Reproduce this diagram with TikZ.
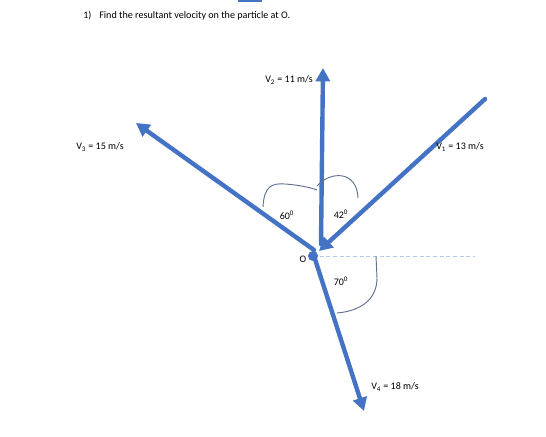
\documentclass[tikz,border=0pt]{standalone}
\usepackage{fontspec}
\setmainfont{Carlito}
\usetikzlibrary{arrows.meta}

\definecolor{vecblue}{RGB}{68,114,196}
\definecolor{arcgray}{RGB}{95,112,145}
\definecolor{dashblue}{RGB}{180,199,231}

\tikzset{
  vec/.style={draw=vecblue,line width=3.3pt,line cap=round,-{Triangle[length=10pt,width=10.5pt]}},
  lbl/.style={font=\fontsize{7.5}{9}\selectfont,inner sep=0pt},
  anglearc/.style={draw=arcgray,line width=0.7pt},
}

\begin{document}
\begin{tikzpicture}[x=0.75pt,y=-0.75pt]
  \useasboundingbox (0,0) rectangle (546,436);
  \fill[vecblue] (238,0) rectangle (262,2);

  \node[lbl,anchor=west] (num) at (83,16) {1)};
  \node[lbl,anchor=west,font=\fontsize{7.6}{9}\selectfont] (title) at (99,16) {Find the resultant velocity on the particle at O.};

  % particle and reference line
  \coordinate (o) at (313,256);
  \coordinate (ref) at (475,256);
  \draw[dashblue,line width=0.6pt,dash pattern=on 3pt off 2pt] (o) -- (ref);

  % velocity vectors
  \coordinate (v1tail) at (485,99);
  \coordinate (v1head) at (319,251);
  \coordinate (v2tail) at (321,244);
  \coordinate (v2head) at (323,68);
  \coordinate (v3tail) at (314,250);
  \coordinate (v3head) at (136,123);
  \coordinate (v4tail) at (314,256);
  \coordinate (v4head) at (364,411);
  \foreach \v in {v1,v2,v3,v4}
    \draw[vec] (\v tail) -- (\v head);

  \fill[vecblue] (o) circle (5);

  % angle marks
  \draw[anglearc] (263,207) .. controls (264,186) and (272,183) .. (285,184)
                            .. controls (300,185) and (312,188) .. (317,190);
  \draw[anglearc] (317,186) .. controls (330,171) and (357,170) .. (358,198);
  \draw[anglearc] (376,256) -- (377,278) .. controls (377,300) and (360,311) .. (337,313);

  \node[lbl] (a60) at (287,215) {60\textsuperscript{0}};
  \node[lbl] (a42) at (341,214) {42\textsuperscript{0}};
  \node[lbl] (a70) at (341,281) {70\textsuperscript{0}};
  \node[lbl] (olbl) at (303,259) {O};

  \node[lbl] (v1lbl) at (460,147) {V\textsubscript{1} = 13 m/s};
  \node[lbl] (v2lbl) at (289,80) {V\textsubscript{2} = 11 m/s};
  \node[lbl] (v3lbl) at (100,147) {V\textsubscript{3} = 15 m/s};
  \node[lbl] (v4lbl) at (395,387) {V\textsubscript{4} = 18 m/s};
\end{tikzpicture}
\end{document}
